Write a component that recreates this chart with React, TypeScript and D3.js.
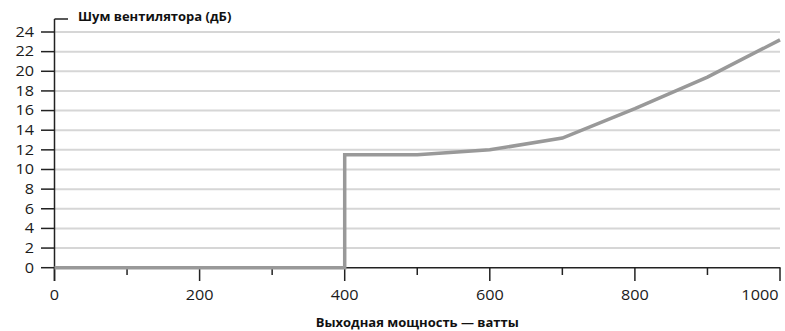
import React from "react";
import * as d3 from "d3";

const powerWatts = [0, 400, 400, 500, 600, 700, 800, 900, 1000];
const noiseDb = [0, 0, 11.5, 11.5, 12, 13.2, 16.2, 19.4, 23.2];
const yTicks = [0, 2, 4, 6, 8, 10, 12, 14, 16, 18, 20, 22, 24];
const xMajorTicks = [0, 200, 400, 600, 800, 1000];
const xMinorTicks = [100, 300, 500, 700, 900];
const yTitle = "Шум вентилятора (дБ)";
const xTitle = "Выходная мощность — ватты";

const W = 785;
const H = 331;
const font = "'Open Sans', 'Noto Sans', sans-serif";
const stretch = 1.16;

export default function App() {
  const x = d3.scaleLinear().domain([0, 1000]).range([54.5, 780]);
  const y = d3.scaleLinear().domain([0, 24]).range([267.7, 32]);
  const data = powerWatts.map((p, i) => [p, noiseDb[i]] as [number, number]);
  const line = d3
    .line<[number, number]>()
    .x((d) => x(d[0]))
    .y((d) => y(d[1]));
  const x0 = x(0);
  const y0 = y(0);
  return (
    <svg
      width={W}
      height={H}
      style={{ position: "absolute", left: 0, top: 0, background: "#fff" }}
    >
      {yTicks
        .filter((t) => t !== 0)
        .map((t) => (
          <line
            key={"g" + t}
            x1={x0}
            x2={x(1000)}
            y1={y(t)}
            y2={y(t)}
            stroke="#d6d6d6"
            strokeWidth={2}
          />
        ))}
      {/* x axis */}
      <line x1={x0} x2={x(1000) + 0.5} y1={y0} y2={y0} stroke="#222" strokeWidth={1.5} />
      {xMajorTicks.map((t) => (
        <line key={"xm" + t} x1={x(t)} x2={x(t)} y1={y0} y2={281} stroke="#222" strokeWidth={1.5} />
      ))}
      {xMinorTicks.map((t) => (
        <line key={"xn" + t} x1={x(t)} x2={x(t)} y1={y0} y2={275} stroke="#222" strokeWidth={1.5} />
      ))}
      {xMajorTicks.map((t) => (
        <text
          key={"xl" + t}
          transform={`translate(${t === 1000 ? x(t) - 1.5 : x(t)},300) scale(${stretch},1)`}
          textAnchor={t === 1000 ? "end" : "middle"}
          fontFamily={font}
          fontSize={14}
          fontWeight={500}
          fill="#1a1a1a"
        >
          {t}
        </text>
      ))}
      {/* y axis */}
      <line x1={x0} x2={x0} y1={19} y2={281} stroke="#222" strokeWidth={1.5} />
      <line x1={x0} x2={68} y1={19} y2={19} stroke="#222" strokeWidth={1.5} />
      {yTicks.map((t) => (
        <g key={"y" + t}>
          <line x1={41} x2={x0} y1={y(t)} y2={y(t)} stroke="#222" strokeWidth={1.5} />
          <text
            transform={`translate(34,${y(t) + 4.8}) scale(${stretch},1)`}
            textAnchor="end"
            fontFamily={font}
            fontSize={14}
            fontWeight={500}
            fill="#1a1a1a"
          >
            {t}
          </text>
        </g>
      ))}
      <text x={78} y={21} fontFamily={font} fontSize={13} fontWeight="bold" fill="#111">
        {yTitle}
      </text>
      <text
        x={(x0 + x(1000)) / 2}
        y={326.5}
        textAnchor="middle"
        fontFamily={font}
        fontSize={13}
        fontWeight="bold"
        fill="#111"
      >
        {xTitle}
      </text>
      <path d={line(data) || ""} fill="none" stroke="#999" strokeWidth={3.5} />
    </svg>
  );
}
